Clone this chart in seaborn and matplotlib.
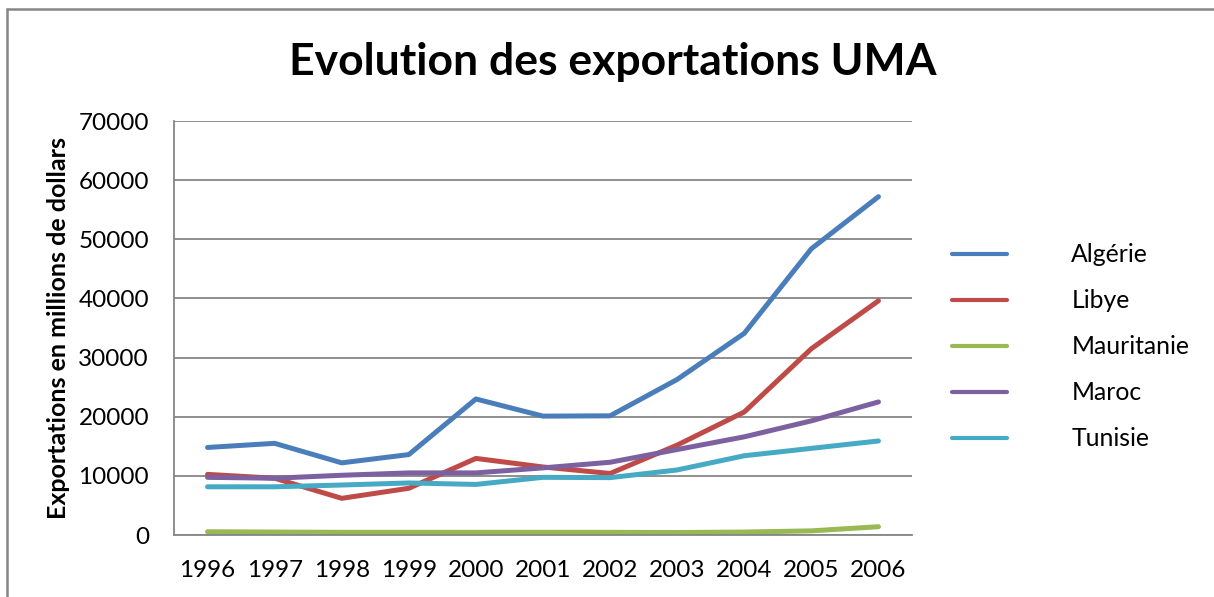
import matplotlib
matplotlib.use("Agg")
import matplotlib.pyplot as plt
from matplotlib.lines import Line2D
import pandas as pd
import seaborn as sns

years = [1996, 1997, 1998, 1999, 2000, 2001, 2002, 2003, 2004, 2005, 2006]
algerie = [14800, 15500, 12200, 13600, 23000, 20100, 20150, 26300, 34100, 48400, 57200]
libye = [10250, 9600, 6200, 7900, 12950, 11500, 10400, 15200, 20800, 31500, 39600]
mauritanie = [550, 500, 450, 450, 450, 450, 450, 420, 500, 700, 1400]
maroc = [9750, 9600, 10100, 10500, 10500, 11350, 12300, 14450, 16600, 19300, 22500]
tunisie = [8150, 8150, 8450, 8800, 8550, 9750, 9700, 11000, 13400, 14650, 15900]

countries = ["Algérie", "Libye", "Mauritanie", "Maroc", "Tunisie"]
colors = ["#4A7EBB", "#BE4B48", "#98B954", "#7D60A0", "#46AAC5"]

series = [algerie, libye, mauritanie, maroc, tunisie]
df = pd.concat(
    [pd.DataFrame({"annee": years, "valeur": v, "pays": c}) for c, v in zip(countries, series)],
    ignore_index=True,
)

sns.set_style("white")
plt.rcParams["font.family"] = ["Lato", "DejaVu Sans"]
plt.rcParams["text.color"] = "black"

fig = plt.figure(figsize=(12.14, 5.97), dpi=100)
ax = fig.add_axes([174 / 1214, 1 - 535 / 597, (912 - 174) / 1214, (535 - 121) / 597])

sns.lineplot(data=df, x="annee", y="valeur", hue="pays", palette=dict(zip(countries, colors)),
             linewidth=3.6, solid_capstyle="round", legend=False, ax=ax)

ax.set_xlim(1995.5, 2006.5)
ax.set_ylim(0, 70000)
ax.set_xticks(years)
ax.set_yticks(range(0, 70001, 10000))
ax.tick_params(axis="both", length=0, labelsize=17.5, colors="black")
ax.tick_params(axis="x", pad=18)
ax.tick_params(axis="y", pad=18)
ax.grid(axis="y", color="#868686", linewidth=1.3)
ax.set_axisbelow(True)
for s in ["top", "right"]:
    ax.spines[s].set_visible(False)
for s in ["left", "bottom"]:
    ax.spines[s].set_color("#868686")
    ax.spines[s].set_linewidth(1.3)
ax.set_xlabel("")
ax.set_ylabel("Exportations en millions de dollars", fontsize=18, fontweight="bold",
              labelpad=6, color="black")

fig.text(613 / 1214, 1 - 62 / 597, "Evolution des exportations UMA", ha="center", va="center",
         fontsize=32, fontweight="bold", color="black")

handles = [Line2D([], [], color=c, linewidth=3, solid_capstyle="round") for c in colors]
fig.legend(handles, countries, loc="center left", bbox_to_anchor=(952 / 1214, 1 - 346.7 / 597),
           frameon=False, fontsize=17.8, handlelength=2.23, handletextpad=2.6, labelspacing=0.93,
           borderpad=0, borderaxespad=0)

# chart area border (top and left visible)
fig.add_artist(Line2D([7 / 1214, 1.0], [1 - 9 / 597] * 2, color="#868686", linewidth=1.8))
fig.add_artist(Line2D([7 / 1214] * 2, [0.0, 1 - 9 / 597], color="#868686", linewidth=1.8))

fig.savefig("out.png", dpi=100)
